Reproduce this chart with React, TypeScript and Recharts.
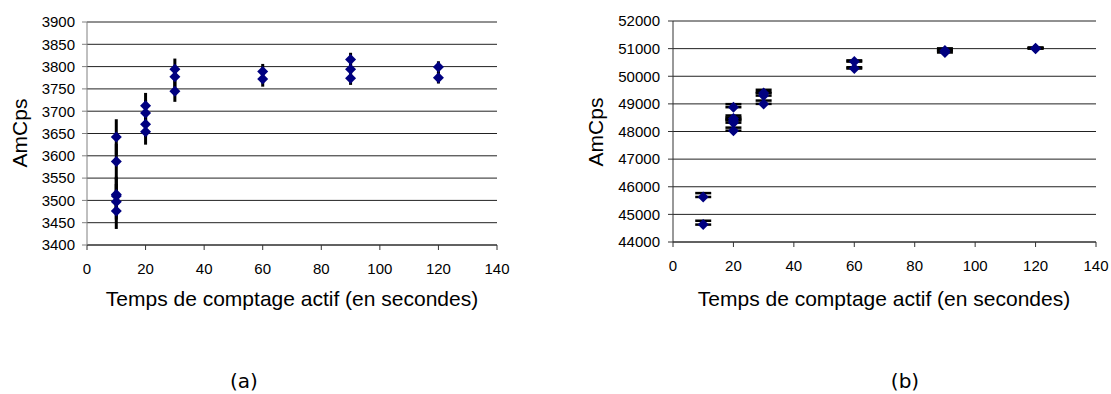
import React from 'react';
import { ScatterChart, Scatter, XAxis, YAxis, CartesianGrid, ErrorBar } from 'recharts';

// shared x axis ticks (seconds)
const timeTicks = [0, 20, 40, 60, 80, 100, 120, 140];

// chart (a)
const timesA = [10, 10, 10, 10, 10, 10, 20, 20, 20, 20, 30, 30, 30, 60, 60, 90, 90, 90, 120, 120];
const amcpsA = [3642, 3587, 3513, 3510, 3497, 3476, 3712, 3696, 3671, 3654, 3794, 3777, 3745, 3789, 3772, 3816, 3794, 3774, 3799, 3775];
const errA = [40, 40, 40, 40, 40, 40, 29, 29, 29, 29, 24, 24, 24, 17, 17, 15, 15, 15, 13, 13];
const yTicksA = [3400, 3450, 3500, 3550, 3600, 3650, 3700, 3750, 3800, 3850, 3900];

// chart (b)
const timesB = [10, 10, 20, 20, 20, 20, 20, 30, 30, 30, 60, 60, 90, 90, 120, 120];
const amcpsB = [45630, 44630, 48880, 48470, 48400, 48320, 48030, 49390, 49300, 49000, 50530, 50280, 50930, 50860, 51010, 51000];
const errB = [140, 140, 110, 110, 110, 110, 110, 120, 120, 120, 45, 45, 80, 80, 30, 30];
const yTicksB = [44000, 45000, 46000, 47000, 48000, 49000, 50000, 51000, 52000];

const xTitle = 'Temps de comptage actif (en secondes)';
const yTitle = 'AmCps';

const dataA = timesA.map((t, i) => ({ x: t, y: amcpsA[i], err: errA[i] }));
const dataB = timesB.map((t, i) => ({ x: t, y: amcpsB[i], err: [0, errB[i]] }));

const FONT = '"Liberation Sans", Arial, sans-serif';

const Diamond = (props: any) => {
  const { cx, cy } = props;
  if (cx == null || cy == null) return null;
  const r = 5.5;
  return <path d={`M${cx},${cy - r}L${cx + r},${cy}L${cx},${cy + r}L${cx - r},${cy}Z`} fill="#000080" />;
};

const abs = (style: React.CSSProperties): React.CSSProperties => ({ position: 'absolute', whiteSpace: 'nowrap', color: '#000', ...style });

export default function App() {
  return (
    <div style={{ position: 'absolute', left: 0, top: 0, width: 1111, height: 394, background: '#fff', overflow: 'hidden' }}>
      <div style={abs({ left: 0, top: 0 })}>
        <ScatterChart width={540} height={320} margin={{ top: 22, right: 43, bottom: 35, left: 27 }}>
          <CartesianGrid vertical={false} stroke="#222" strokeWidth={1} />
          <XAxis
            type="number"
            dataKey="x"
            domain={[0, 140]}
            ticks={timeTicks}
            interval={0}
            height={40}
            tickSize={5}
            tickMargin={13}
            axisLine={{ stroke: '#333' }}
            tickLine={{ stroke: '#333' }}
            tick={{ fill: '#000', fontSize: 15, fontFamily: FONT }}
          />
          <YAxis
            type="number"
            dataKey="y"
            domain={[3400, 3900]}
            ticks={yTicksA}
            interval={0}
            width={60}
            tickSize={5}
            tickMargin={7}
            axisLine={{ stroke: '#808080' }}
            tickLine={{ stroke: '#808080' }}
            tick={{ fill: '#000', fontSize: 15, fontFamily: FONT }}
          />
          <Scatter data={dataA} shape={Diamond} isAnimationActive={false}>
            <ErrorBar dataKey="err" direction="y" width={0} stroke="#000" strokeWidth={3} isAnimationActive={false} />
          </Scatter>
        </ScatterChart>
      </div>
      <div style={abs({ left: 560, top: 0 })}>
        <ScatterChart width={551} height={320} margin={{ top: 21, right: 15, bottom: 38, left: 43 }}>
          <CartesianGrid vertical={false} stroke="#222" strokeWidth={1} />
          <XAxis
            type="number"
            dataKey="x"
            domain={[0, 140]}
            ticks={timeTicks}
            interval={0}
            height={40}
            tickSize={5}
            tickMargin={13}
            axisLine={{ stroke: '#333' }}
            tickLine={{ stroke: '#333' }}
            tick={{ fill: '#000', fontSize: 15, fontFamily: FONT }}
          />
          <YAxis
            type="number"
            dataKey="y"
            domain={[44000, 52000]}
            ticks={yTicksB}
            interval={0}
            width={70}
            tickSize={5}
            tickMargin={8}
            axisLine={{ stroke: '#333' }}
            tickLine={{ stroke: '#333' }}
            tick={{ fill: '#000', fontSize: 15, fontFamily: FONT }}
          />
          <Scatter data={dataB} shape={Diamond} isAnimationActive={false}>
            <ErrorBar dataKey="err" direction="y" width={8} stroke="#000" strokeWidth={2.5} isAnimationActive={false} />
          </Scatter>
        </ScatterChart>
      </div>

      <div style={abs({ left: 292, top: 288, transform: 'translateX(-50%)', fontFamily: FONT, fontSize: 21, lineHeight: '21px' })}>{xTitle}</div>
      <div style={abs({ left: 884, top: 288, transform: 'translateX(-50%)', fontFamily: FONT, fontSize: 21, lineHeight: '21px' })}>{xTitle}</div>

      <div style={abs({ left: 19, top: 133, transform: 'translate(-50%, -50%) rotate(-90deg)', fontFamily: FONT, fontSize: 21, lineHeight: '21px' })}>{yTitle}</div>
      <div style={abs({ left: 595, top: 132, transform: 'translate(-50%, -50%) rotate(-90deg)', fontFamily: FONT, fontSize: 21, lineHeight: '21px' })}>{yTitle}</div>

      <div style={abs({ left: 244, top: 371, transform: 'translateX(-50%)', fontFamily: '"DejaVu Sans", sans-serif', fontSize: 20, lineHeight: '20px' })}>(a)</div>
      <div style={abs({ left: 905, top: 371, transform: 'translateX(-50%)', fontFamily: '"DejaVu Sans", sans-serif', fontSize: 20, lineHeight: '20px' })}>(b)</div>
    </div>
  );
}
